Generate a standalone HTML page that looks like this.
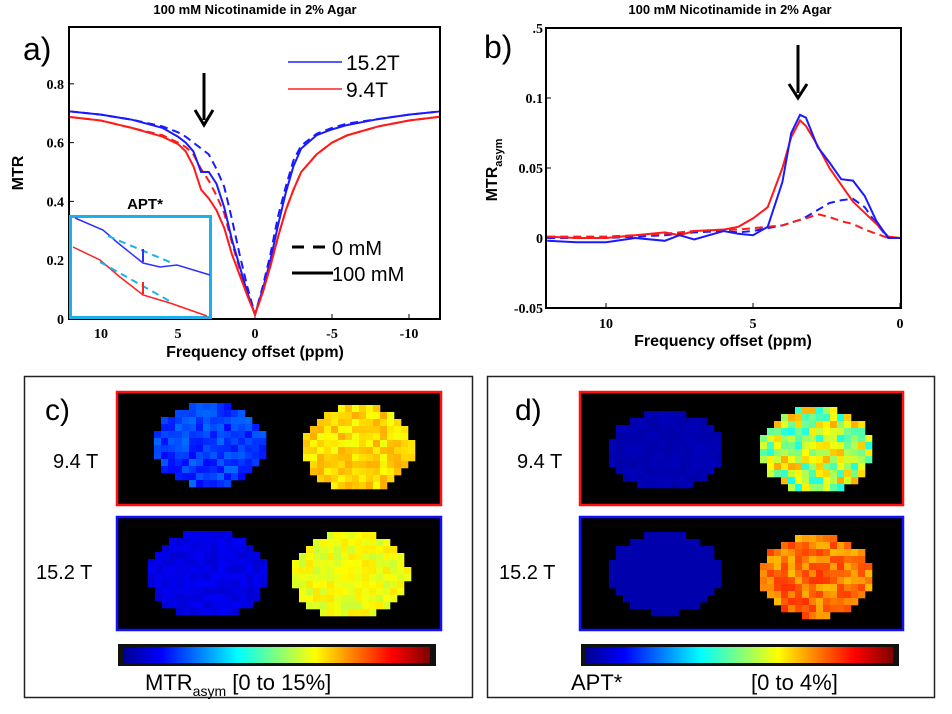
<!DOCTYPE html>
<html><head><meta charset="utf-8"><style>
body{margin:0;background:#fff;}
svg{display:block;font-family:"Liberation Sans",sans-serif;}
.tk{font-family:"Liberation Serif",serif;font-weight:bold;font-size:14px;}
</style></head><body>
<svg id="fig" width="952" height="714" viewBox="0 0 952 714">
<!-- Panel a -->
<g>
<text x="255" y="14" text-anchor="middle" font-weight="bold" font-size="13">100 mM Nicotinamide in 2% Agar</text>
<text x="23" y="60" font-size="32">a)</text>
<text transform="translate(23,173) rotate(-90)" text-anchor="middle" font-weight="bold" font-size="16">MTR</text>
<text x="255" y="357" text-anchor="middle" font-weight="bold" font-size="16">Frequency offset (ppm)</text>
<g id="axA"></g>
<g id="curvesA"></g>
<rect x="69" y="27" width="371" height="292" fill="none" stroke="#000" stroke-width="2"/>
<line x1="204" y1="73" x2="204" y2="120" stroke="#000" stroke-width="3"/>
<polyline points="195,110 204,125 213,110" fill="none" stroke="#000" stroke-width="3"/>
<line x1="288" y1="62" x2="342" y2="62" stroke="#2020ff" stroke-width="1.5"/>
<text x="346" y="70" font-size="21">15.2T</text>
<line x1="288" y1="89" x2="342" y2="89" stroke="#ff2020" stroke-width="1.5"/>
<text x="346" y="97" font-size="21">9.4T</text>
<line x1="292" y1="247" x2="332" y2="247" stroke="#000" stroke-width="3" stroke-dasharray="12,9"/>
<text x="332" y="255" font-size="20">0 mM</text>
<line x1="292" y1="273" x2="333" y2="273" stroke="#000" stroke-width="3"/>
<text x="332" y="281" font-size="20">100 mM</text>
<text x="145" y="209" text-anchor="middle" font-weight="bold" font-size="15">APT*</text>
<g>
<rect x="70.5" y="216.5" width="140" height="101" fill="#fff" stroke="#1cb0ea" stroke-width="3"/>
<polyline points="75,218 103,230 118,243 143,263 160,267 177,265 210,275" fill="none" stroke="#3030ff" stroke-width="1.5"/>
<polyline points="73,247 100,260 120,277 143,295 170,303 207,316" fill="none" stroke="#ff2020" stroke-width="1.5"/>
<line x1="108" y1="236" x2="172" y2="263" stroke="#1cb0ea" stroke-width="2" stroke-dasharray="7,5"/>
<line x1="100" y1="262" x2="173" y2="303" stroke="#1cb0ea" stroke-width="2" stroke-dasharray="7,5"/>
<line x1="143" y1="249" x2="143" y2="262" stroke="#3030ff" stroke-width="2"/>
<line x1="143" y1="282" x2="143" y2="294" stroke="#ff2020" stroke-width="2"/>
</g>
</g>
<!-- Panel b -->
<g>
<text x="730" y="14" text-anchor="middle" font-weight="bold" font-size="13">100 mM Nicotinamide in 2% Agar</text>
<text x="484" y="58" font-size="32">b)</text>
<text transform="translate(497,170) rotate(-90)" text-anchor="middle" font-weight="bold" font-size="16">MTR<tspan font-size="11" dy="5">asym</tspan></text>
<text x="723" y="346" text-anchor="middle" font-weight="bold" font-size="16">Frequency offset (ppm)</text>
<g id="axB"></g>
<g id="curvesB"></g>
<rect x="546" y="28" width="355" height="280" fill="none" stroke="#000" stroke-width="2"/>
<line x1="798" y1="45" x2="798" y2="93" stroke="#000" stroke-width="3"/>
<polyline points="789,84 798,98 807,84" fill="none" stroke="#000" stroke-width="3"/>
</g>
<!-- Panel c -->
<g>
<rect x="24.5" y="376.5" width="448" height="321" fill="none" stroke="#222" stroke-width="1.5"/>
<text x="45" y="420" font-size="30">c)</text>
<rect x="117" y="392" width="324" height="113" fill="#000" stroke="#ff1010" stroke-width="2.5"/>
<rect x="117" y="517" width="324" height="113" fill="#000" stroke="#1010ff" stroke-width="2.5"/>
<text x="53" y="468" font-size="20">9.4 T</text>
<text x="36" y="579" font-size="20">15.2 T</text>
<rect x="118" y="644" width="318" height="22" fill="#111"/>
<rect x="123" y="647" width="307" height="16" fill="url(#jet)"/>
<text x="145" y="690" font-size="22">MTR<tspan font-size="14" dy="6">asym</tspan><tspan dy="-6"> [0 to 15%]</tspan></text>
</g>
<!-- Panel d -->
<g>
<rect x="487.5" y="376.5" width="447" height="321" fill="none" stroke="#222" stroke-width="1.5"/>
<text x="515" y="420" font-size="30">d)</text>
<rect x="580" y="392" width="323" height="113" fill="#000" stroke="#ff1010" stroke-width="2.5"/>
<rect x="580" y="517" width="323" height="113" fill="#000" stroke="#1010ff" stroke-width="2.5"/>
<text x="517" y="468" font-size="20">9.4 T</text>
<text x="499" y="579" font-size="20">15.2 T</text>
<rect x="581" y="644" width="318" height="22" fill="#111"/>
<rect x="586" y="647" width="307" height="16" fill="url(#jet)"/>
<text x="571" y="690" font-size="22">APT*</text>
<text x="751" y="690" font-size="22">[0 to 4%]</text>
</g>
<defs>
<linearGradient id="jet" x1="0" x2="1" y1="0" y2="0">
<stop offset="0" stop-color="#00008f"/><stop offset="0.125" stop-color="#0000ff"/><stop offset="0.375" stop-color="#00ffff"/><stop offset="0.625" stop-color="#ffff00"/><stop offset="0.875" stop-color="#ff0000"/><stop offset="1" stop-color="#800000"/>
</linearGradient>
</defs>
<g id="maps"></g>
</svg>
<script>
// ---- Panel a data ----
const ppmA = [12,10,8,6,5,4.5,4,3.5,3,2.5,2,1.5,1,0.5,0,-0.5,-1,-1.5,-2,-2.5,-3,-4,-5,-6,-8,-10,-12];
const mtrBlue100 = [0.706,0.695,0.678,0.65,0.62,0.60,0.57,0.50,0.50,0.46,0.38,0.27,0.18,0.09,0.015,0.10,0.20,0.32,0.43,0.52,0.58,0.625,0.645,0.66,0.68,0.695,0.706];
const mtrBlue0 = [0.706,0.695,0.678,0.655,0.635,0.62,0.60,0.58,0.56,0.51,0.45,0.34,0.22,0.11,0.015,0.11,0.22,0.35,0.45,0.54,0.59,0.63,0.65,0.665,0.68,0.695,0.706];
const mtrRed100 = [0.687,0.675,0.65,0.62,0.595,0.57,0.52,0.44,0.41,0.37,0.31,0.22,0.15,0.08,0.015,0.09,0.18,0.28,0.37,0.44,0.50,0.56,0.60,0.625,0.655,0.675,0.688];
const mtrRed0 = [0.687,0.675,0.65,0.625,0.60,0.585,0.56,0.51,0.47,0.42,0.36,0.26,0.17,0.09,0.015,0.09,0.18,0.28,0.37,0.44,0.50,0.56,0.60,0.625,0.655,0.675,0.688];
const ticksAx = [10,5,0,-5,-10];
const ticksAy = [0,0.2,0.4,0.6,0.8];
const tickLabelsAy = ['0','0.2','0.4','0.6','0.8'];
// ---- Panel b data ----
const ppmB = [12,11,10,9,8,7.5,7,6,5.5,5,4.5,4,3.7,3.4,3.2,2.8,2.4,2,1.6,1.2,0.8,0.4,0];
const asymBlue100 = [-0.002,-0.003,-0.003,0,-0.002,0.002,-0.001,0.005,0.003,0.002,0.008,0.04,0.075,0.088,0.086,0.065,0.054,0.042,0.041,0.03,0.012,0,0];
const asymRed100 = [0.001,0.0,0.0,0.002,0.004,0.002,0.005,0.006,0.008,0.014,0.022,0.05,0.072,0.084,0.08,0.066,0.05,0.038,0.026,0.018,0.01,0.001,0];
const asymBlue0 = [0,0,0,0.001,0.002,0.003,0.004,0.005,0.004,0.005,0.007,0.009,0.011,0.013,0.015,0.02,0.025,0.027,0.028,0.022,0.01,0,0];
const asymRed0 = [0.001,0.001,0.001,0.002,0.003,0.004,0.005,0.006,0.006,0.007,0.008,0.009,0.011,0.013,0.014,0.017,0.015,0.012,0.01,0.006,0.003,0,0];
const ticksBx = [10,5,0];
const ticksBy = [-0.05,0,0.05,0.1,0.15];
const tickLabelsBy = ['-0.05','0','0.05','0.1','.5'];
// ---- Maps data (mean / spread on colour scale 0..1) ----
const mapNames = ['c-94-0mm','c-94-100mm','c-152-0mm','c-152-100mm','d-94-0mm','d-94-100mm','d-152-0mm','d-152-100mm'];
const mapMeans = [0.18,0.66,0.10,0.61,0.05,0.55,0.045,0.76];
const mapSpread = [0.05,0.05,0.02,0.04,0.01,0.16,0.0,0.07];

const NS='http://www.w3.org/2000/svg';
function mk(tag,parent){const e=document.createElementNS(NS,tag);parent.appendChild(e);return e;}
const xA=p=>255-p*15.4, yA=v=>319-v*294;
const xB=p=>900-p*29.4, yB=v=>238-v*1400;

const axA=document.getElementById('axA');
ticksAx.forEach(t=>{
  const l=mk('line',axA);l.setAttribute('x1',xA(t));l.setAttribute('x2',xA(t));l.setAttribute('y1',319);l.setAttribute('y2',314);l.setAttribute('stroke','#000');
  
  
  const s=mk('text',axA);s.setAttribute('x',xA(t));s.setAttribute('y',338);s.setAttribute('text-anchor','middle');s.setAttribute('class','tk');s.textContent=t;
  
  
});
ticksAy.forEach((t,i)=>{
  const l=mk('line',axA);l.setAttribute('x1',69);l.setAttribute('x2',74);l.setAttribute('y1',yA(t));l.setAttribute('y2',yA(t));l.setAttribute('stroke','#000');
  
  
  const s=mk('text',axA);s.setAttribute('x',64);s.setAttribute('y',yA(t)+5);s.setAttribute('text-anchor','end');s.setAttribute('class','tk');s.textContent=tickLabelsAy[i];
  
  
});
const cA=document.getElementById('curvesA');
[[mtrBlue0,'#1a1aff',true,'blue-0mm-a'],[mtrRed0,'#ff1a1a',true,'red-0mm-a'],[mtrBlue100,'#1a1aff',false,'blue-100mm-a'],[mtrRed100,'#ff1a1a',false,'red-100mm-a']].forEach(s=>{
  const p=mk('polyline',cA);p.setAttribute('points',ppmA.map((x,i)=>xA(x)+','+yA(s[0][i])).join(' '));
  p.setAttribute('fill','none');p.setAttribute('stroke',s[1]);p.setAttribute('stroke-width','2');
  if(s[2])p.setAttribute('stroke-dasharray','8,5');
  
  
});
const axB=document.getElementById('axB');
ticksBx.forEach(t=>{
  const l=mk('line',axB);l.setAttribute('x1',xB(t));l.setAttribute('x2',xB(t));l.setAttribute('y1',308);l.setAttribute('y2',303);l.setAttribute('stroke','#000');
  
  
  const s=mk('text',axB);s.setAttribute('x',xB(t));s.setAttribute('y',328);s.setAttribute('text-anchor','middle');s.setAttribute('class','tk');s.textContent=t;
  
  
});
ticksBy.forEach((t,i)=>{
  const l=mk('line',axB);l.setAttribute('x1',546);l.setAttribute('x2',551);l.setAttribute('y1',yB(t));l.setAttribute('y2',yB(t));l.setAttribute('stroke','#000');
  
  
  const s=mk('text',axB);s.setAttribute('x',543);s.setAttribute('y',yB(t)+5);s.setAttribute('text-anchor','end');s.setAttribute('class','tk');s.textContent=tickLabelsBy[i];
  
  
});
const cB=document.getElementById('curvesB');
[[asymBlue0,'#1a1aff',true,'blue-0mm-b'],[asymRed0,'#ff1a1a',true,'red-0mm-b'],[asymRed100,'#ff1a1a',false,'red-100mm-b'],[asymBlue100,'#1a1aff',false,'blue-100mm-b']].forEach(s=>{
  const p=mk('polyline',cB);p.setAttribute('points',ppmB.map((x,i)=>xB(x)+','+yB(s[0][i])).join(' '));
  p.setAttribute('fill','none');p.setAttribute('stroke',s[1]);p.setAttribute('stroke-width','2');
  if(s[2])p.setAttribute('stroke-dasharray','8,5');
  
  
});
// maps
function jet(v){const c=x=>Math.round(255*Math.max(0,Math.min(1,x)));
  return 'rgb('+c(1.5-Math.abs(4*v-3))+','+c(1.5-Math.abs(4*v-2))+','+c(1.5-Math.abs(4*v-1))+')';}
function hash(a,b,c){let h=(a*374761393+b*668265263+c*2147483647)>>>0;h=(h^(h>>>13))*1274126177>>>0;return ((h^(h>>>16))>>>0)/4294967296;}
const diskBoxes=[[154,403,265,487],[303,405,413,491],[148,531,267,618],[292,532,408,618],[609,411,723,490],[760,407,873,492],[609,532,722,614],[760,535,873,617]];
const maps=document.getElementById('maps');
diskBoxes.forEach((b,k)=>{
  const g=mk('g',maps);
  
  
  const cx=(b[0]+b[2])/2, cy=(b[1]+b[3])/2, rx=(b[2]-b[0])/2, ry=(b[3]-b[1])/2, cs=7;
  for(let y=b[1];y<b[3];y+=cs)for(let x=b[0];x<b[2];x+=cs){
    const dx=(x+cs/2-cx)/rx, dy=(y+cs/2-cy)/ry; if(dx*dx+dy*dy>1)continue;
    const v=mapMeans[k]+(hash(x,y,k)-0.5)*2*mapSpread[k];
    const r=mk('rect',g);r.setAttribute('x',x);r.setAttribute('y',y);r.setAttribute('width',cs+0.3);r.setAttribute('height',cs+0.3);r.setAttribute('fill',jet(v));
    
    
  }
});
</script>
</body></html>
